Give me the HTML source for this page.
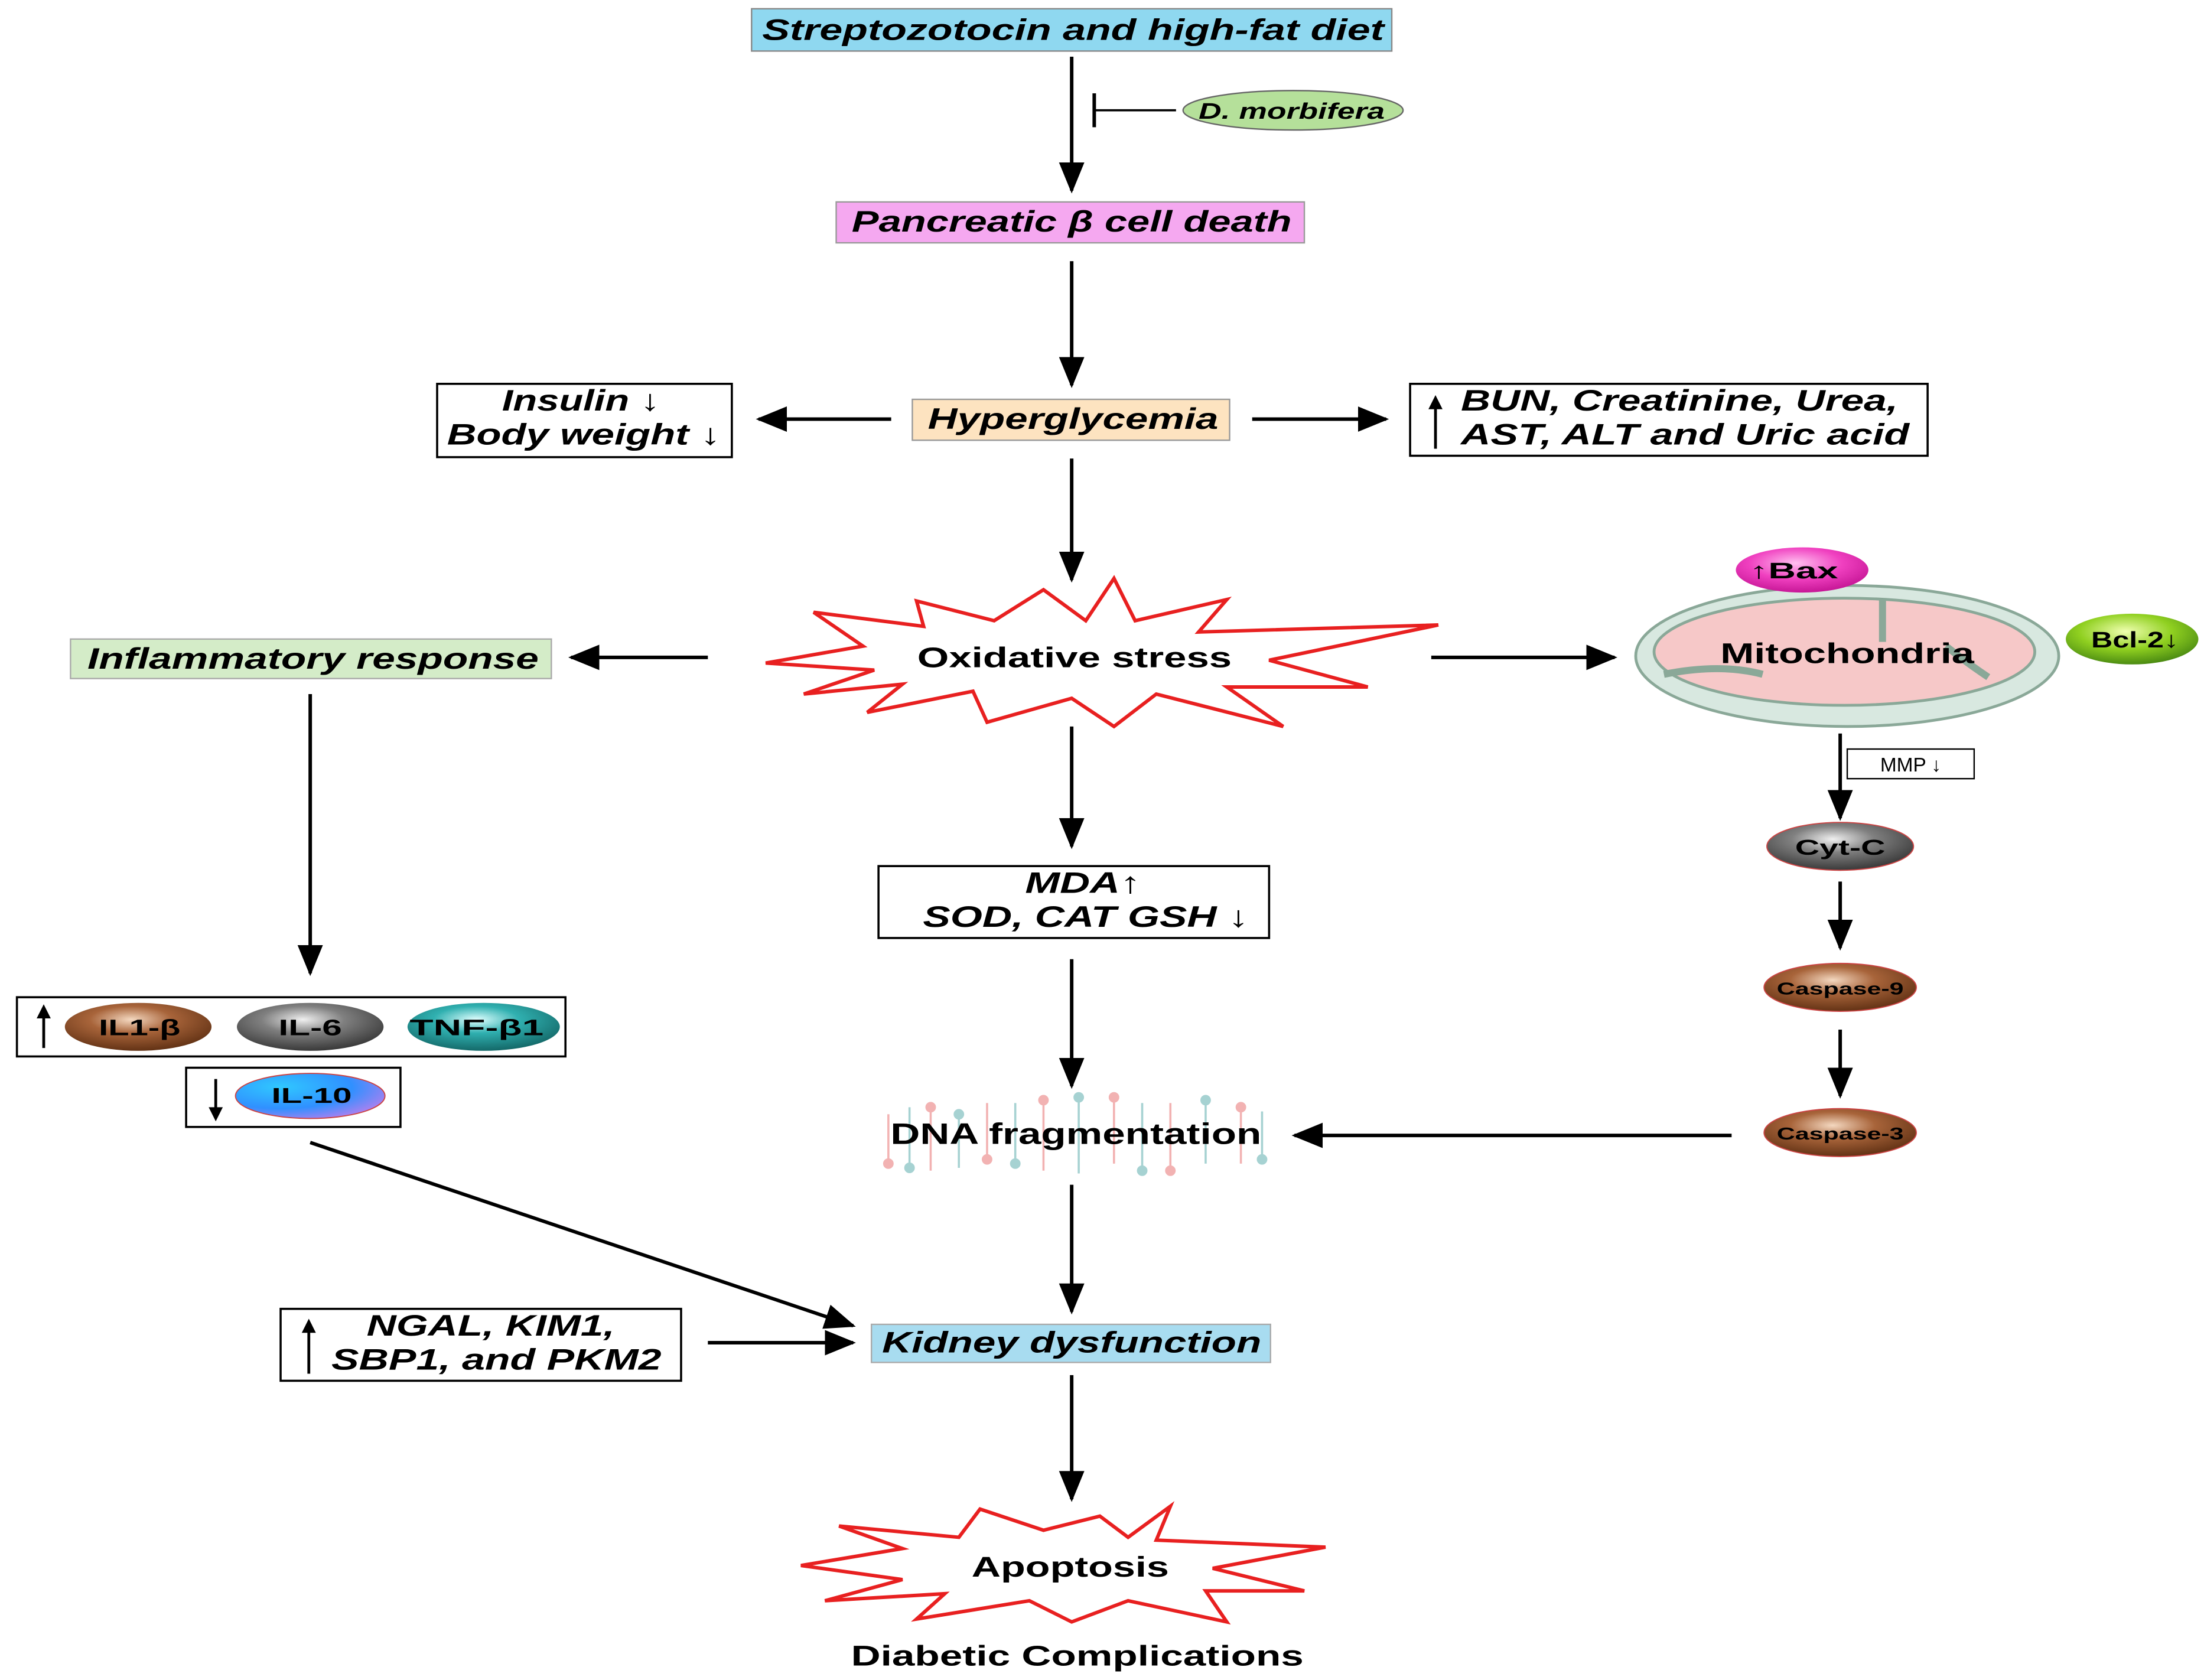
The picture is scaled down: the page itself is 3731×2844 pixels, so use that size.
<!DOCTYPE html>
<html><head><meta charset="utf-8"><style>
html,body{margin:0;padding:0;background:#fff}
svg{display:block}
text{font-family:"Liberation Sans",sans-serif;font-weight:bold}
.bi{font-style:italic}
</style></head><body>
<svg width="3731" height="2844" viewBox="0 0 1563 1191" xmlns="http://www.w3.org/2000/svg">
<defs>
<marker id="a2" markerWidth="22" markerHeight="22" refX="20" refY="11" orient="auto" markerUnits="userSpaceOnUse" viewBox="0 0 22 22"><path d="M0,2 L22,11 L0,20 z" fill="#000"/></marker>
<radialGradient id="gBrown" cx="0.45" cy="0.35" r="0.7"><stop offset="0" stop-color="#f4d8c0"/><stop offset="0.4" stop-color="#a8643a"/><stop offset="1" stop-color="#5a2c10"/></radialGradient>
<radialGradient id="gGray" cx="0.45" cy="0.35" r="0.7"><stop offset="0" stop-color="#f0f0f0"/><stop offset="0.4" stop-color="#808080"/><stop offset="1" stop-color="#303030"/></radialGradient>
<radialGradient id="gTeal" cx="0.45" cy="0.35" r="0.7"><stop offset="0" stop-color="#e0ffff"/><stop offset="0.4" stop-color="#30b0b0"/><stop offset="1" stop-color="#106060"/></radialGradient>
<radialGradient id="gBlue" cx="0.3" cy="0.3" r="0.8"><stop offset="0" stop-color="#30c8ff"/><stop offset="0.6" stop-color="#3090ff"/><stop offset="1" stop-color="#b080f0"/></radialGradient>
<radialGradient id="gPink" cx="0.45" cy="0.35" r="0.7"><stop offset="0" stop-color="#ffc0f0"/><stop offset="0.5" stop-color="#f040c0"/><stop offset="1" stop-color="#c01090"/></radialGradient>
<radialGradient id="gGreen" cx="0.45" cy="0.35" r="0.7"><stop offset="0" stop-color="#f0ffb0"/><stop offset="0.5" stop-color="#90d020"/><stop offset="1" stop-color="#408010"/></radialGradient>
</defs>
<g stroke="#000" stroke-width="2.5" fill="none">
<line x1="760" y1="40" x2="760" y2="135" marker-end="url(#a2)"/>
<line x1="760" y1="185" x2="760" y2="273" marker-end="url(#a2)"/>
<line x1="632" y1="297" x2="538" y2="297" marker-end="url(#a2)"/>
<line x1="888" y1="297" x2="983" y2="297" marker-end="url(#a2)"/>
<line x1="760" y1="325" x2="760" y2="411" marker-end="url(#a2)"/>
<line x1="502" y1="466" x2="405" y2="466" marker-end="url(#a2)"/>
<line x1="1015" y1="466" x2="1145" y2="466" marker-end="url(#a2)"/>
<line x1="760" y1="515" x2="760" y2="600" marker-end="url(#a2)"/>
<line x1="760" y1="680" x2="760" y2="770" marker-end="url(#a2)"/>
<line x1="760" y1="840" x2="760" y2="930" marker-end="url(#a2)"/>
<line x1="760" y1="975" x2="760" y2="1063" marker-end="url(#a2)"/>
<line x1="220" y1="492" x2="220" y2="690" marker-end="url(#a2)"/>
<line x1="220" y1="810" x2="605" y2="940" marker-end="url(#a2)"/>
<line x1="502" y1="952" x2="605" y2="952" marker-end="url(#a2)"/>
<line x1="1228" y1="805" x2="918" y2="805" marker-end="url(#a2)"/>
<line x1="1305" y1="520" x2="1305" y2="580" marker-end="url(#a2)"/>
<line x1="1305" y1="625" x2="1305" y2="672" marker-end="url(#a2)"/>
<line x1="1305" y1="730" x2="1305" y2="777" marker-end="url(#a2)"/>
<line x1="776" y1="66" x2="776" y2="90"/>
<line x1="776" y1="78" x2="834" y2="78" stroke-width="1.5"/>
</g>
<rect x="533" y="6" width="454" height="30" fill="#8fd8f0" stroke="#888" stroke-width="1"/>
<text x="761" y="28" text-anchor="middle" font-size="21" class="bi" textLength="441" lengthAdjust="spacingAndGlyphs">Streptozotocin and high-fat diet</text>
<ellipse cx="917" cy="78" rx="78" ry="14" fill="#b5e09a" stroke="#666" stroke-width="1"/>
<text x="916" y="84" text-anchor="middle" font-size="16" class="bi" textLength="132" lengthAdjust="spacingAndGlyphs">D. morbifera</text>
<rect x="593" y="143" width="332" height="29" fill="#f5a8f0" stroke="#999" stroke-width="1"/>
<text x="760" y="164" text-anchor="middle" font-size="21" class="bi" textLength="312" lengthAdjust="spacingAndGlyphs">Pancreatic β cell death</text>
<rect x="647" y="283" width="225" height="29" fill="#fde3c0" stroke="#999" stroke-width="1"/>
<text x="761" y="304" text-anchor="middle" font-size="21" class="bi" textLength="206" lengthAdjust="spacingAndGlyphs">Hyperglycemia</text>
<rect x="310" y="272" width="209" height="52" fill="#fff" stroke="#000" stroke-width="1.5"/>
<text x="412" y="291" text-anchor="middle" font-size="21" class="bi" textLength="112" lengthAdjust="spacingAndGlyphs">Insulin ↓</text>
<text x="414" y="315" text-anchor="middle" font-size="21" class="bi" textLength="194" lengthAdjust="spacingAndGlyphs">Body weight ↓</text>
<rect x="1000" y="272" width="367" height="51" fill="#fff" stroke="#000" stroke-width="1.5"/>
<line x1="1018" y1="285" x2="1018" y2="318" stroke="#000" stroke-width="2"/><path d="M1013,290 L1018,280 L1023,290z" fill="#000"/>
<text x="1036" y="291" font-size="21" class="bi" textLength="310" lengthAdjust="spacingAndGlyphs">BUN, Creatinine, Urea,</text>
<text x="1036" y="315" font-size="21" class="bi" textLength="318" lengthAdjust="spacingAndGlyphs">AST, ALT and Uric acid</text>
<polygon points="543,470 612,458 577,434 655,444 650,426 705,440 740,418 770,440 790,410 805,440 870,425 850,448 1020,443 900,468 970,487 870,487 910,515 820,492 790,515 760,495 700,512 690,490 615,505 640,485 570,492 620,475" fill="#fff" stroke="#e82020" stroke-width="2.5"/>
<text x="762" y="473" text-anchor="middle" font-size="20" textLength="223" lengthAdjust="spacingAndGlyphs">Oxidative stress</text>
<rect x="50" y="453" width="341" height="28" fill="#d4ecc8" stroke="#aaa" stroke-width="1"/>
<text x="222" y="474" text-anchor="middle" font-size="21" class="bi" textLength="320" lengthAdjust="spacingAndGlyphs">Inflammatory response</text>
<ellipse cx="1310" cy="465" rx="150" ry="50" fill="#d8e8e0" stroke="#8aa898" stroke-width="2"/>
<ellipse cx="1308" cy="462" rx="135" ry="38" fill="#f6c8c8" stroke="#8aa898" stroke-width="2"/>
<path d="M1335,424 L1335,455 M1180,478 Q1220,470 1250,478 M1380,458 Q1395,470 1410,480" stroke="#8aa898" stroke-width="5" fill="none"/>
<text x="1310" y="470" text-anchor="middle" font-size="20" textLength="180" lengthAdjust="spacingAndGlyphs">Mitochondria</text>
<ellipse cx="1278" cy="404" rx="47" ry="16" fill="url(#gPink)"/>
<text x="1272" y="410" text-anchor="middle" font-size="16" textLength="63" lengthAdjust="spacingAndGlyphs">↑Bax</text>
<ellipse cx="1512" cy="453" rx="47" ry="18" fill="url(#gGreen)"/>
<text x="1514" y="459" text-anchor="middle" font-size="16" textLength="62" lengthAdjust="spacingAndGlyphs">Bcl-2↓</text>
<rect x="1310" y="531" width="90" height="21" fill="#fff" stroke="#000" stroke-width="1"/>
<text x="1355" y="547" text-anchor="middle" font-size="14" style="font-weight:normal">MMP ↓</text>
<ellipse cx="1305" cy="600" rx="52" ry="17" fill="url(#gGray)" stroke="#c44" stroke-width="0.8"/>
<text x="1305" y="606" text-anchor="middle" font-size="15" textLength="64" lengthAdjust="spacingAndGlyphs">Cyt-C</text>
<ellipse cx="1305" cy="700" rx="54" ry="17" fill="url(#gBrown)" stroke="#c44" stroke-width="0.8"/>
<text x="1305" y="705" text-anchor="middle" font-size="12" textLength="90" lengthAdjust="spacingAndGlyphs">Caspase-9</text>
<ellipse cx="1305" cy="803" rx="54" ry="17" fill="url(#gBrown)" stroke="#c44" stroke-width="0.8"/>
<text x="1305" y="808" text-anchor="middle" font-size="12" textLength="90" lengthAdjust="spacingAndGlyphs">Caspase-3</text>
<rect x="623" y="614" width="277" height="51" fill="#fff" stroke="#000" stroke-width="1.5"/>
<text x="768" y="633" text-anchor="middle" font-size="21" class="bi" textLength="82" lengthAdjust="spacingAndGlyphs">MDA↑</text>
<text x="770" y="657" text-anchor="middle" font-size="21" class="bi" textLength="231" lengthAdjust="spacingAndGlyphs">SOD, CAT GSH ↓</text>
<g stroke-width="1.5" opacity="0.8">
<g stroke="#f0a0a0" fill="#f0a0a0">
<line x1="630" y1="790" x2="630" y2="825"/><line x1="660" y1="785" x2="660" y2="830"/><line x1="700" y1="782" x2="700" y2="822"/><line x1="740" y1="780" x2="740" y2="830"/><line x1="790" y1="778" x2="790" y2="825"/><line x1="830" y1="782" x2="830" y2="830"/><line x1="880" y1="785" x2="880" y2="825"/>
<circle cx="630" cy="825" r="3"/><circle cx="660" cy="785" r="3"/><circle cx="700" cy="822" r="3"/><circle cx="740" cy="780" r="3"/><circle cx="790" cy="778" r="3"/><circle cx="830" cy="830" r="3"/><circle cx="880" cy="785" r="3"/>
</g>
<g stroke="#90c8c8" fill="#90c8c8">
<line x1="645" y1="785" x2="645" y2="828"/><line x1="680" y1="790" x2="680" y2="828"/><line x1="720" y1="782" x2="720" y2="825"/><line x1="765" y1="778" x2="765" y2="832"/><line x1="810" y1="782" x2="810" y2="830"/><line x1="855" y1="780" x2="855" y2="825"/><line x1="895" y1="788" x2="895" y2="822"/>
<circle cx="645" cy="828" r="3"/><circle cx="680" cy="790" r="3"/><circle cx="720" cy="825" r="3"/><circle cx="765" cy="778" r="3"/><circle cx="810" cy="830" r="3"/><circle cx="855" cy="780" r="3"/><circle cx="895" cy="822" r="3"/>
</g>
</g>
<text x="763" y="811" text-anchor="middle" font-size="21" textLength="263" lengthAdjust="spacingAndGlyphs">DNA fragmentation</text>
<rect x="12" y="707" width="389" height="42" fill="#fff" stroke="#000" stroke-width="1.5"/>
<line x1="31" y1="717" x2="31" y2="743" stroke="#000" stroke-width="2"/><path d="M26,722 L31,712 L36,722z" fill="#000"/>
<ellipse cx="98" cy="728" rx="52" ry="17" fill="url(#gBrown)"/>
<text x="99" y="734" text-anchor="middle" font-size="16" textLength="58" lengthAdjust="spacingAndGlyphs">IL1-β</text>
<ellipse cx="220" cy="728" rx="52" ry="17" fill="url(#gGray)"/>
<text x="220" y="734" text-anchor="middle" font-size="16" textLength="45" lengthAdjust="spacingAndGlyphs">IL-6</text>
<ellipse cx="343" cy="728" rx="54" ry="17" fill="url(#gTeal)"/>
<text x="338" y="734" text-anchor="middle" font-size="16" textLength="95" lengthAdjust="spacingAndGlyphs">TNF-β1</text>
<rect x="132" y="757" width="152" height="42" fill="#fff" stroke="#000" stroke-width="1.5"/>
<line x1="153" y1="765" x2="153" y2="790" stroke="#000" stroke-width="2"/><path d="M148,785 L153,795 L158,785z" fill="#000"/>
<ellipse cx="220" cy="777" rx="53" ry="16" fill="url(#gBlue)" stroke="#c44" stroke-width="0.8"/>
<text x="221" y="782" text-anchor="middle" font-size="15" textLength="57" lengthAdjust="spacingAndGlyphs">IL-10</text>
<rect x="199" y="928" width="284" height="51" fill="#fff" stroke="#000" stroke-width="1.5"/>
<line x1="219" y1="940" x2="219" y2="974" stroke="#000" stroke-width="2"/><path d="M214,945 L219,935 L224,945z" fill="#000"/>
<text x="348" y="947" text-anchor="middle" font-size="21" class="bi" textLength="176" lengthAdjust="spacingAndGlyphs">NGAL, KIM1,</text>
<text x="352" y="971" text-anchor="middle" font-size="21" class="bi" textLength="234" lengthAdjust="spacingAndGlyphs">SBP1, and PKM2</text>
<rect x="618" y="939" width="283" height="27" fill="#a8dcf0" stroke="#aaa" stroke-width="1"/>
<text x="760" y="959" text-anchor="middle" font-size="21" class="bi" textLength="269" lengthAdjust="spacingAndGlyphs">Kidney dysfunction</text>
<polygon points="568,1110 640,1098 595,1082 680,1090 695,1070 740,1085 780,1075 800,1090 830,1068 820,1092 940,1097 860,1112 925,1128 855,1128 870,1150 800,1135 760,1150 730,1135 650,1148 670,1130 585,1135 640,1120" fill="#fff" stroke="#e82020" stroke-width="2.5"/>
<text x="759" y="1118" text-anchor="middle" font-size="20" textLength="140" lengthAdjust="spacingAndGlyphs">Apoptosis</text>
<text x="764" y="1181" text-anchor="middle" font-size="20" textLength="321" lengthAdjust="spacingAndGlyphs">Diabetic Complications</text>
</svg>
</body></html>
